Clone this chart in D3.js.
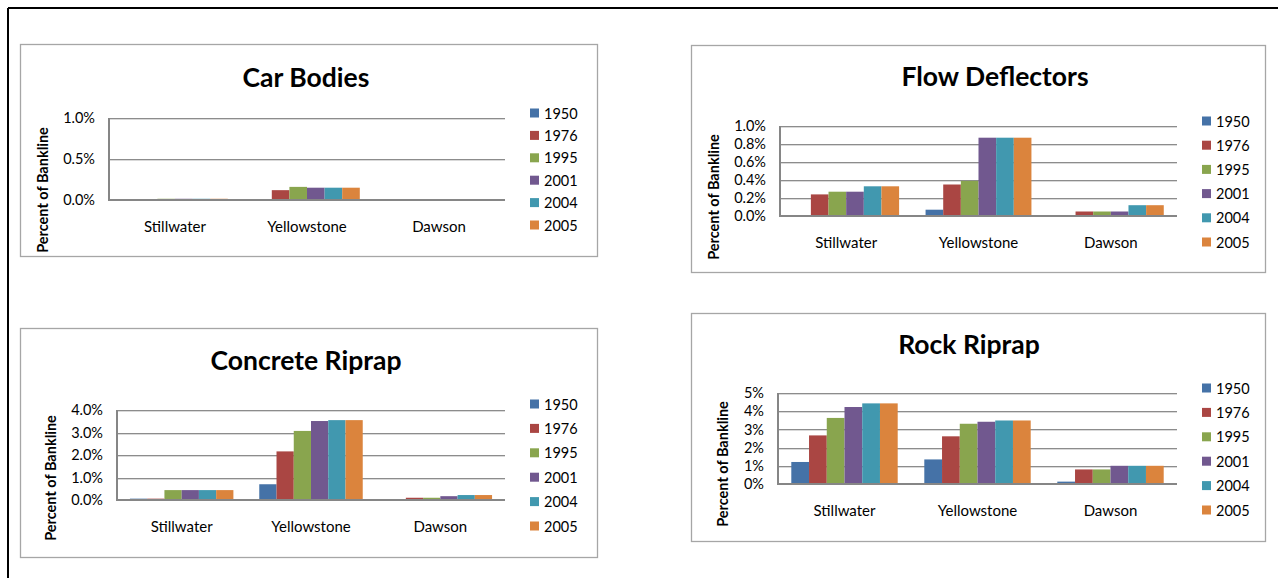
<!DOCTYPE html>
<html>
<head>
<meta charset="utf-8">
<script src="https://cdn.jsdelivr.net/npm/d3@7"></script>
<style>
  html, body { margin: 0; padding: 0; background: #ffffff; }
  svg { display: block; }
  text { font-family: Lato, "Liberation Sans", sans-serif; fill: #000; }
</style>
</head>
<body>
<svg id="chart" width="1278" height="578"></svg>
<script>
// ---------- DATA ----------
const categories = ["Stillwater", "Yellowstone", "Dawson"];
const years = ["1950", "1976", "1995", "2001", "2004", "2005"];
const colors = ["#4572A7", "#AA4643", "#89A54E", "#71588F", "#4198AF", "#DB843D"];

// values in percent of bankline, one row per category, one column per year
const carBodiesValues = [
  [0.00, 0.00, 0.015, 0.015, 0.015, 0.015],
  [0.01, 0.12, 0.16, 0.15, 0.15, 0.15],
  [0.00, 0.00, 0.00, 0.00, 0.00, 0.00]
];
const flowDeflectorsValues = [
  [0.00, 0.24, 0.27, 0.27, 0.33, 0.33],
  [0.07, 0.35, 0.39, 0.87, 0.87, 0.87],
  [0.00, 0.05, 0.05, 0.05, 0.12, 0.12]
];
const concreteRiprapValues = [
  [0.06, 0.06, 0.44, 0.44, 0.44, 0.44],
  [0.70, 2.16, 3.07, 3.51, 3.55, 3.55],
  [0.00, 0.10, 0.10, 0.17, 0.22, 0.22]
];
const rockRiprapValues = [
  [1.21, 2.67, 3.63, 4.23, 4.43, 4.43],
  [1.35, 2.62, 3.31, 3.42, 3.49, 3.49],
  [0.13, 0.80, 0.80, 1.00, 1.00, 1.00]
];

const carBodiesTicks = [0, 0.5, 1.0];
const flowDeflectorsTicks = [0, 0.2, 0.4, 0.6, 0.8, 1.0];
const concreteRiprapTicks = [0, 1, 2, 3, 4];
const rockRiprapTicks = [0, 1, 2, 3, 4, 5];

const titles = ["Car Bodies", "Flow Deflectors", "Concrete Riprap", "Rock Riprap"];
const yAxisTitle = "Percent of Bankline";

// ---------- LAYOUT ----------
const panels = [
  { title: titles[0], values: carBodiesValues, ticks: carBodiesTicks, fmt: d => d.toFixed(1) + "%",
    box: [20, 44, 597, 256], plot: [109, 505, 118, 200], titlePos: [306, 77],
    legend: [530, 113, 22.4], ylab: [42, 190] },
  { title: titles[1], values: flowDeflectorsValues, ticks: flowDeflectorsTicks, fmt: d => d.toFixed(1) + "%",
    box: [691, 45, 1265, 272], plot: [780, 1177, 126, 216], titlePos: [995, 76],
    legend: [1202, 121, 24.2], ylab: [713, 197] },
  { title: titles[2], values: concreteRiprapValues, ticks: concreteRiprapTicks, fmt: d => d.toFixed(1) + "%",
    box: [20, 328, 597, 557], plot: [117, 505, 410, 500], titlePos: [306, 360],
    legend: [530, 404, 24.4], ylab: [50, 478] },
  { title: titles[3], values: rockRiprapValues, ticks: rockRiprapTicks, fmt: d => d.toFixed(0) + "%",
    box: [691, 313, 1265, 541], plot: [778, 1177, 393, 484], titlePos: [969, 344],
    legend: [1202, 388, 24.4], ylab: [722, 464] }
];

const svg = d3.select("#chart");

// outer frame (top and left lines)
svg.append("line").attr("x1", 8).attr("y1", 8).attr("x2", 1278).attr("y2", 8)
  .attr("stroke", "#000").attr("stroke-width", 2);
svg.append("line").attr("x1", 8).attr("y1", 8).attr("x2", 8).attr("y2", 578)
  .attr("stroke", "#000").attr("stroke-width", 2);

panels.forEach(p => {
  const g = svg.append("g");
  const [bx0, by0, bx1, by1] = p.box;
  g.append("rect").attr("x", bx0 + 0.5).attr("y", by0 + 0.5)
    .attr("width", bx1 - bx0).attr("height", by1 - by0)
    .attr("fill", "#fff").attr("stroke", "#a6a6a6").attr("stroke-width", 1.3);

  const clip = "clip" + Math.round(bx0) + "_" + Math.round(by0);
  g.append("clipPath").attr("id", clip).append("rect")
    .attr("x", bx0 + 1).attr("y", by0 + 1).attr("width", bx1 - bx0 - 1).attr("height", by1 - by0 - 1);
  const inner = g.append("g").attr("clip-path", `url(#${clip})`);

  const [px0, px1, pyTop, pyBot] = p.plot;
  const x0 = d3.scaleBand().domain(categories).range([px0, px1]).paddingInner(0).paddingOuter(0);
  // Excel gap width 150%: 0.75 bar-width of gap on each side of the group
  const x1 = d3.scaleBand().domain(years)
    .range([0, x0.bandwidth()]).paddingOuter(0.75).paddingInner(0);
  const yMax = p.ticks[p.ticks.length - 1];
  const y = d3.scaleLinear().domain([0, yMax]).range([pyBot, pyTop]);

  // gridlines
  p.ticks.forEach(t => {
    if (t === 0) return;
    inner.append("line").attr("x1", px0).attr("x2", px1)
      .attr("y1", Math.round(y(t)) + 1.5).attr("y2", Math.round(y(t)) + 1.5)
      .attr("stroke", "#d9d9d9").attr("stroke-width", 1);
    inner.append("line").attr("x1", px0).attr("x2", px1)
      .attr("y1", Math.round(y(t)) + 0.5).attr("y2", Math.round(y(t)) + 0.5)
      .attr("stroke", "#8c8c8c").attr("stroke-width", 1);
  });

  // bars
  categories.forEach((c, ci) => {
    years.forEach((yr, yi) => {
      const v = p.values[ci][yi];
      if (v <= 0) return;
      const top = y(v);
      inner.append("rect")
        .attr("x", x0(c) + x1(yr))
        .attr("y", top)
        .attr("width", x1.bandwidth())
        .attr("height", Math.max(pyBot - top, 0))
        .attr("fill", colors[yi]);
    });
  });

  // axes lines
  inner.append("line").attr("x1", px0).attr("x2", px0).attr("y1", pyTop).attr("y2", pyBot)
    .attr("stroke", "#868686").attr("stroke-width", 2);
  inner.append("line").attr("x1", px0 - 1).attr("x2", px1).attr("y1", pyBot).attr("y2", pyBot)
    .attr("stroke", "#868686").attr("stroke-width", 2);

  // y tick labels via d3 axis
  const yAxis = d3.axisLeft(y).tickValues(p.ticks).tickFormat(p.fmt).tickSize(0).tickPadding(14);
  const ya = inner.append("g").attr("transform", `translate(${px0},0)`).call(yAxis);
  ya.select(".domain").remove();
  ya.selectAll("text").attr("font-size", 14.5).attr("font-family", "Lato, sans-serif").attr("fill", "#000");

  // x category labels via d3 axis
  const xAxis = d3.axisBottom(x0).tickSize(0).tickPadding(21);
  const xa = inner.append("g").attr("transform", `translate(0,${pyBot})`).call(xAxis);
  xa.select(".domain").remove();
  xa.selectAll("text").attr("font-size", 15).attr("font-family", "Lato, sans-serif").attr("fill", "#000");

  // title
  inner.append("text").attr("x", p.titlePos[0]).attr("y", p.titlePos[1])
    .attr("text-anchor", "middle").attr("dominant-baseline", "central")
    .attr("font-size", 26.5).attr("font-weight", "bold").text(p.title);

  // y-axis title
  inner.append("text")
    .attr("transform", `translate(${p.ylab[0]},${p.ylab[1]}) rotate(-90)`)
    .attr("text-anchor", "middle").attr("dominant-baseline", "central")
    .attr("font-size", 14.5).attr("font-weight", "bold").text(yAxisTitle);

  // legend
  const [lx, ly0, lstep] = p.legend;
  years.forEach((yr, i) => {
    const cy = ly0 + i * lstep;
    inner.append("rect").attr("x", lx).attr("y", cy - 4.5).attr("width", 9).attr("height", 9)
      .attr("fill", colors[i]);
    inner.append("text").attr("x", lx + 14).attr("y", cy)
      .attr("dominant-baseline", "central").attr("font-size", 14.5).text(yr);
  });
});
</script>
</body>
</html>
